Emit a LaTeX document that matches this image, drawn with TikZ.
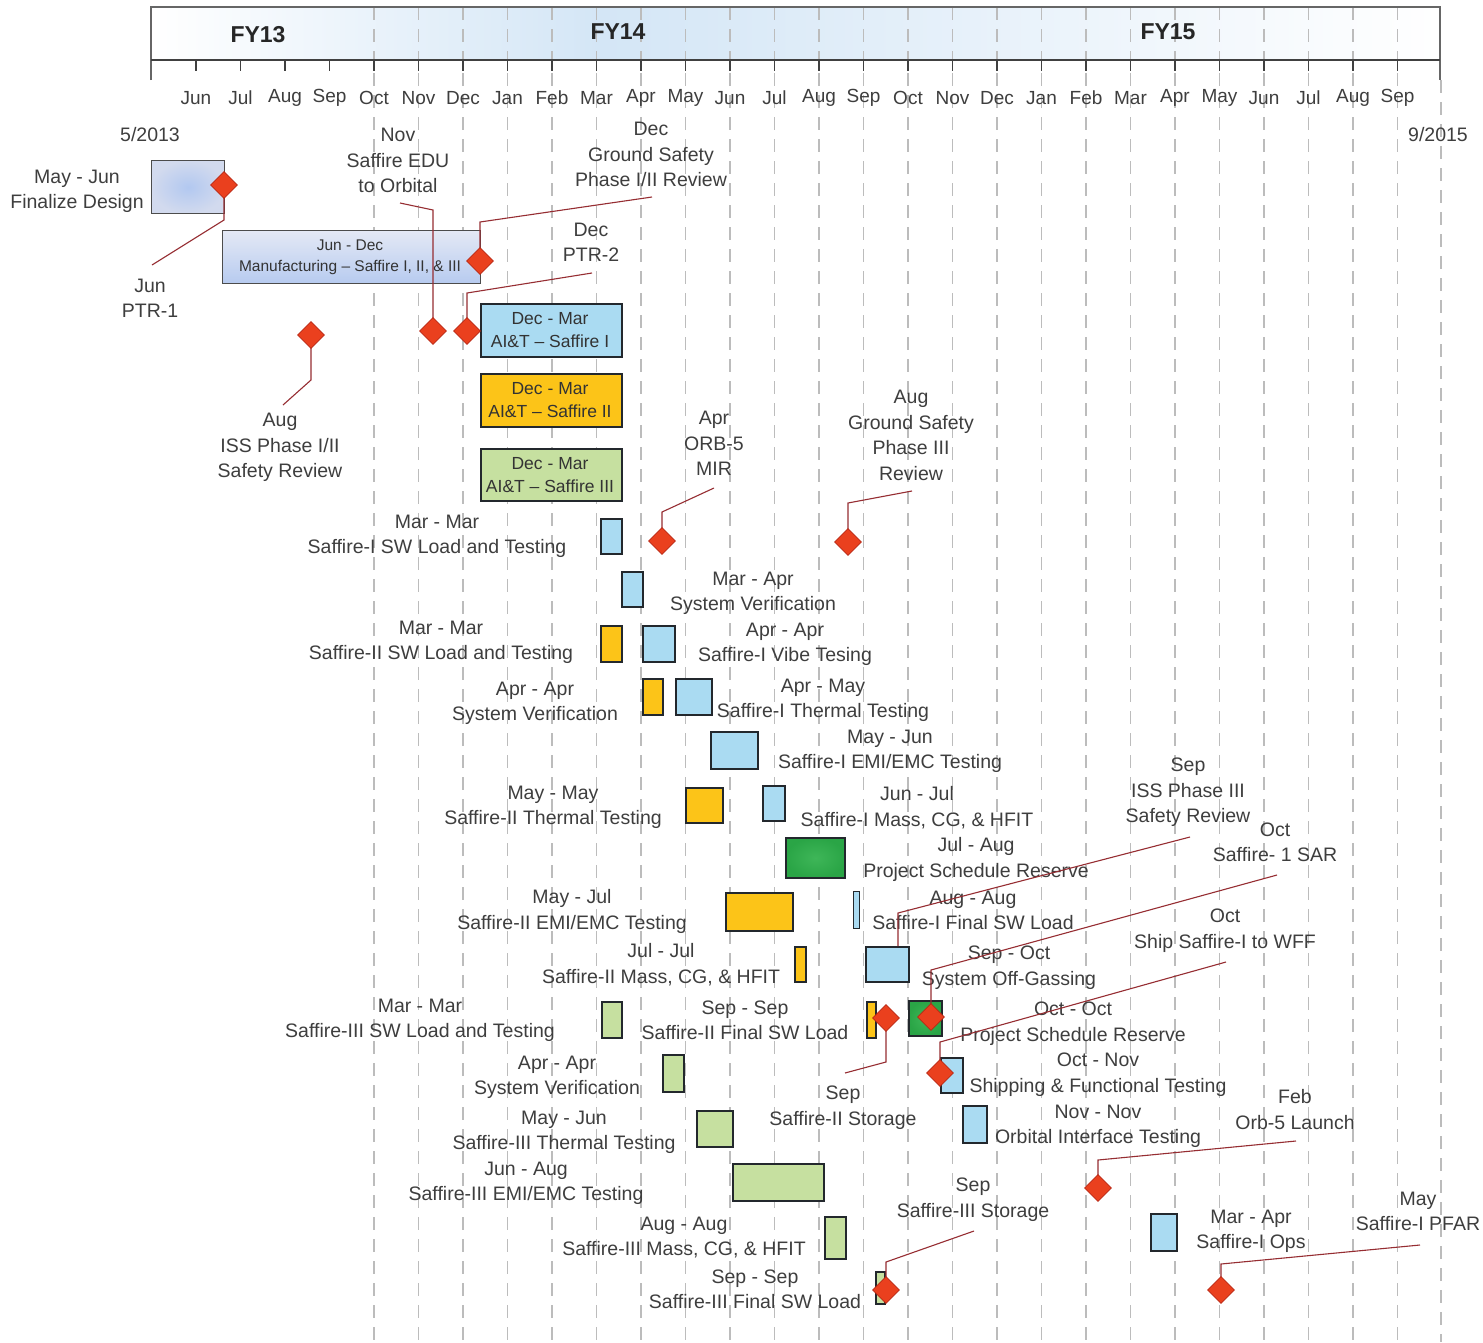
\documentclass[tikz,border=0pt]{standalone}
\usepackage{fontspec}
\setmainfont{Liberation Sans}
\usetikzlibrary{shapes.geometric}
\definecolor{txt}{RGB}{62,62,62}
\definecolor{gridc}{RGB}{188,188,188}
\definecolor{sI}{RGB}{170,219,242}
\definecolor{sII}{RGB}{252,196,24}
\definecolor{sIII}{RGB}{198,224,160}
\definecolor{res}{RGB}{42,165,70}
\definecolor{resc}{RGB}{62,182,88}
\definecolor{lav}{RGB}{210,218,238}
\definecolor{lavc}{RGB}{178,200,240}
\definecolor{mscol}{RGB}{234,64,30}
\definecolor{msd}{RGB}{185,40,20}
\definecolor{leadc}{RGB}{150,45,50}
\definecolor{edgec}{RGB}{35,40,45}
\definecolor{hdr}{RGB}{212,230,246}
\begin{document}
\begin{tikzpicture}[x=1pt,y=-1pt,
 lbl/.style={text=txt, align=center, font=\fontsize{19.5}{25.5}\selectfont, inner sep=0pt, yshift=-2.5pt},
 mon/.style={text=txt, font=\fontsize{19}{22}\selectfont, inner sep=0pt, yshift=-1pt},
 fy/.style={text=black!85, font=\fontsize{23}{26}\selectfont\bfseries, inner sep=0pt},
 inbox/.style={text=black!80, align=center, inner sep=0pt, yshift=-1pt},
 barbox/.style={draw=edgec, line width=1.7pt, anchor=north west, inner sep=0pt},
 ms/.style={shape=diamond, fill=mscol, draw=msd, line width=0.6pt, minimum width=27pt, minimum height=27pt, inner sep=0pt},
 leader/.style={draw=leadc, line width=1.1pt},
 gridline/.style={draw=gridc, line width=1.3pt, dash pattern=on 13pt off 9pt},
 tick/.style={draw=black!75, line width=1.2pt}]
\useasboundingbox (0,0) rectangle (1483,1342);
\fill[white] (0,0) rectangle (1483,1342);
% header shading
\shade[left color=white, right color=hdr] (151,7) rectangle (600,60);
\shade[left color=hdr, right color=white] (600,7) rectangle (1440,60);
% grid
\foreach \k in {4,...,27} \draw[gridline] ({196+44.5*\k},7) -- ({196+44.5*\k},1342);
\draw[gridline] (1441,80) -- (1441,1342);
% header frame
\draw[draw=black!60, line width=1.2pt] (151,80) -- (151,7) -- (1440,7) -- (1440,80);
\draw[draw=black!75, line width=2.6pt] (151,60) -- (1440,60);
\foreach \k in {0,...,27} \draw[tick] ({196+44.5*\k},60) -- ({196+44.5*\k},71);
\node[fy] (fy13) at (258,35) {FY13};
\node[fy] (fy14) at (618,32) {FY14};
\node[fy] (fy15) at (1168,32) {FY15};
\foreach \m [count=\i from 0] in {Jun,Jul,Aug,Sep,Oct,Nov,Dec,Jan,Feb,Mar,Apr,May,Jun,Jul,Aug,Sep,Oct,Nov,Dec,Jan,Feb,Mar,Apr,May,Jun,Jul,Aug,Sep}
  \node[mon] (mon\i) at ({196+44.5*\i},97) {\m};
\node[lbl] (start) at (150,132) {5/2013};
\node[lbl] (stop) at (1438,132) {9/2015};
% bars
\node[barbox, draw=black!70, line width=1.3pt, inner color=lavc, outer color=lav, minimum width=73pt, minimum height=53pt] (bFD) at (151,160) {};
\node[barbox, draw=black!70, line width=1.3pt, top color=lav!60, bottom color=lavc!85!lav, minimum width=258pt, minimum height=53pt] (bMF) at (222,230) {};
\node[inbox, font=\fontsize{15.5}{21}\selectfont] (tMF) at (350,256) {Jun - Dec\\Manufacturing -- Saffire I, II, \& III};
\node[barbox, fill=sI, minimum width=141pt, minimum height=53pt] (bA1) at (480,303) {};
\node[inbox, font=\fontsize{17.5}{23}\selectfont] (tA1) at (550,329) {Dec - Mar\\AI\&T -- Saffire I};
\node[barbox, fill=sII, minimum width=141pt, minimum height=53pt] (bA2) at (480,373) {};
\node[inbox, font=\fontsize{17.5}{23}\selectfont] (tA2) at (550,399) {Dec - Mar\\AI\&T -- Saffire II};
\node[barbox, fill=sIII, minimum width=141pt, minimum height=52pt] (bA3) at (480,448) {};
\node[inbox, font=\fontsize{17.5}{23}\selectfont] (tA3) at (550,474) {Dec - Mar\\AI\&T -- Saffire III};
\node[barbox, fill=sI, minimum width=21pt, minimum height=35pt] (b6) at (600,518) {};
\node[barbox, fill=sI, minimum width=21pt, minimum height=35pt] (b7) at (621,571) {};
\node[barbox, fill=sII, minimum width=21pt, minimum height=36pt] (b8) at (600,625) {};
\node[barbox, fill=sI, minimum width=32pt, minimum height=36pt] (b9) at (642,625) {};
\node[barbox, fill=sII, minimum width=20pt, minimum height=36pt] (b10) at (642,678) {};
\node[barbox, fill=sI, minimum width=36pt, minimum height=36pt] (b11) at (675,678) {};
\node[barbox, fill=sI, minimum width=47pt, minimum height=37pt] (b12) at (710,731) {};
\node[barbox, fill=sII, minimum width=37pt, minimum height=35pt] (b13) at (685,787) {};
\node[barbox, fill=sI, minimum width=22pt, minimum height=35pt] (b14) at (762,785) {};
\node[barbox, inner color=resc, outer color=res, minimum width=59pt, minimum height=40pt] (b15) at (785,837) {};
\node[barbox, fill=sII, minimum width=67pt, minimum height=38pt] (b16) at (725,892) {};
\node[barbox, fill=sI, line width=1.2pt, minimum width=6pt, minimum height=37pt] (b17) at (853,891) {};
\node[barbox, fill=sII, minimum width=11pt, minimum height=35pt] (b18) at (794,946) {};
\node[barbox, fill=sI, minimum width=43pt, minimum height=35pt] (bOG) at (865,946) {};
\node[barbox, fill=sIII, minimum width=20pt, minimum height=36pt] (b20) at (601,1001) {};
\node[barbox, fill=sII, minimum width=9pt, minimum height=36pt] (b21) at (866,1001) {};
\node[barbox, inner color=resc, outer color=res, minimum width=33pt, minimum height=35pt] (b22) at (908,1000) {};
\node[barbox, fill=sI, minimum width=22pt, minimum height=35pt] (b23) at (940,1057) {};
\node[barbox, fill=sIII, minimum width=21pt, minimum height=37pt] (b24) at (662,1054) {};
\node[barbox, fill=sIII, minimum width=36pt, minimum height=36pt] (b25) at (696,1110) {};
\node[barbox, fill=sI, minimum width=24pt, minimum height=37pt] (b26) at (962,1105) {};
\node[barbox, fill=sIII, minimum width=91pt, minimum height=37pt] (b27) at (732,1163) {};
\node[barbox, fill=sIII, minimum width=21pt, minimum height=42pt] (b28) at (824,1216) {};
\node[barbox, fill=sIII, minimum width=9pt, minimum height=32pt] (b29) at (875,1271) {};
\node[barbox, fill=sI, minimum width=26pt, minimum height=37pt] (b30) at (1150,1213) {};
% bar labels
\node[lbl] (lFD) at (77,189) {May - Jun\\Finalize Design};
\node[lbl] (l6) at (437,534) {Mar - Mar\\Saffire-I SW Load and Testing};
\node[lbl] (l7) at (753,591) {Mar - Apr\\System Verification};
\node[lbl] (l8) at (441,640) {Mar - Mar\\Saffire-II SW Load and Testing};
\node[lbl] (l9) at (785,642) {Apr - Apr\\Saffire-I Vibe Tesing};
\node[lbl] (l10) at (535,701) {Apr - Apr\\System Verification};
\node[lbl] (l11) at (823,698) {Apr - May\\Saffire-I Thermal Testing};
\node[lbl] (l12) at (890,749) {May - Jun\\Saffire-I EMI/EMC Testing};
\node[lbl] (l13) at (553,805) {May - May\\Saffire-II Thermal Testing};
\node[lbl] (l14) at (917,805) {Jun - Jul\\Saffire-I Mass, CG, \& HFIT};
\node[lbl] (l15) at (976,857) {Jul - Aug\\Project Schedule Reserve};
\node[lbl] (l16) at (572,909) {May - Jul\\Saffire-II EMI/EMC Testing};
\node[lbl] (l17) at (973,908) {Aug - Aug\\Saffire-I Final SW Load};
\node[lbl] (l18) at (661,962) {Jul - Jul\\Saffire-II Mass, CG, \& HFIT};
\node[lbl] (lOG) at (1009,965) {Sep - Oct\\System Off-Gassing};
\node[lbl] (l20) at (420,1018) {Mar - Mar\\Saffire-III SW Load and Testing};
\node[lbl] (l21) at (745,1018) {Sep - Sep\\Saffire-II Final SW Load};
\node[lbl] (l22) at (1073,1021) {Oct - Oct\\Project Schedule Reserve};
\node[lbl] (l23) at (1098,1072) {Oct - Nov\\Shipping \& Functional Testing};
\node[lbl] (l24) at (557,1075) {Apr - Apr\\System Verification};
\node[lbl] (l25) at (564,1130) {May - Jun\\Saffire-III Thermal Testing};
\node[lbl] (l26) at (1098,1124) {Nov - Nov\\Orbital Interface Testing};
\node[lbl] (l27) at (526,1181) {Jun - Aug\\Saffire-III EMI/EMC Testing};
\node[lbl] (l28) at (684,1235) {Aug - Aug\\Saffire-III Mass, CG, \& HFIT};
\node[lbl] (l29) at (755,1287) {Sep - Sep\\Saffire-III Final SW Load};
\node[lbl] (l30) at (1251,1229) {Mar - Apr\\Saffire-I Ops};
% milestone labels
\node[lbl] (mPTR1) at (150,296) {Jun\\PTR-1};
\node[lbl] (mGS12) at (651,152) {Dec\\Ground Safety\\Phase I/II Review};
\node[lbl] (mEDU) at (398,158) {Nov\\Saffire EDU\\to Orbital};
\node[lbl] (mPTR2) at (591,240) {Dec\\PTR-2};
\node[lbl] (mISS12) at (280,445) {Aug\\ISS Phase I/II\\Safety Review};
\node[lbl] (mORB) at (714,441) {Apr\\ORB-5\\MIR};
\node[lbl] (mGS3) at (911,433) {Aug\\Ground Safety\\Phase III\\Review};
\node[lbl] (mS2S) at (843,1105) {Sep\\Saffire-II Storage};
\node[lbl] (mISS3) at (1188,790) {Sep\\ISS Phase III\\Safety Review};
\node[lbl] (mSAR) at (1275,840) {Oct\\Saffire- 1 SAR};
\node[lbl] (mWFF) at (1225,928) {Oct\\Ship Saffire-I to WFF};
\node[lbl] (mORB5) at (1295,1107) {Feb\\Orb-5 Launch};
\node[lbl] (mS3S) at (973,1197) {Sep\\Saffire-III Storage};
\node[lbl] (mPFAR) at (1418,1209) {May\\Saffire-I PFAR};
% milestone positions
\coordinate (pFD) at (224,185);
\coordinate (pMF) at (480,261);
\coordinate (pEDU) at (433,331);
\coordinate (pPTR2) at (467,331);
\coordinate (pISS12) at (311,335);
\coordinate (pORB) at (662,541);
\coordinate (pGS3) at (848,542);
\coordinate (pS2S) at (886,1018);
\coordinate (pSAR) at (931,1017);
\coordinate (pWFF) at (940,1073);
\coordinate (pORB5) at (1098,1188);
\coordinate (pS3S) at (886,1290);
\coordinate (pPFAR) at (1221,1290);
% leader ends and knees
\coordinate (ePTR1) at (152,265);  \coordinate (kPTR1) at (224,220);
\coordinate (eGS12) at (652,197);  \coordinate (kGS12) at (480,222);
\coordinate (eEDU) at (400,203);   \coordinate (kEDU) at (433,210);
\coordinate (ePTR2) at (592,273);  \coordinate (kPTR2) at (467,293);
\coordinate (eISS12) at (283,405); \coordinate (kISS12) at (311,380);
\coordinate (eORB) at (714,488);   \coordinate (kORB) at (662,512);
\coordinate (eGS3) at (912,491);   \coordinate (kGS3) at (848,503);
\coordinate (eS2S) at (845,1073);  \coordinate (kS2S) at (886,1062);
\coordinate (eISS3) at (1190,837); \coordinate (kISS3) at (898,913);
\coordinate (eSAR) at (1277,875);  \coordinate (kSAR) at (931,970);
\coordinate (eWFF) at (1226,962);  \coordinate (kWFF) at (940,1042);
\coordinate (eORB5) at (1296,1141);\coordinate (kORB5) at (1098,1160);
\coordinate (eS3S) at (974,1231);  \coordinate (kS3S) at (886,1262);
\coordinate (ePFAR) at (1420,1245);\coordinate (kPFAR) at (1221,1264);
\draw[leader] (ePTR1) -- (kPTR1) -- (pFD);
\draw[leader] (eGS12) -- (kGS12) -- (pMF);
\draw[leader] (eEDU) -- (kEDU) -- (pEDU);
\draw[leader] (ePTR2) -- (kPTR2) -- (pPTR2);
\draw[leader] (eISS12) -- (kISS12) -- (pISS12);
\draw[leader] (eORB) -- (kORB) -- (pORB);
\draw[leader] (eGS3) -- (kGS3) -- (pGS3);
\draw[leader] (eS2S) -- (kS2S) -- (pS2S);
\draw[leader] (eISS3) -- (kISS3) -- (kISS3 |- bOG.north);
\draw[leader] (eSAR) -- (kSAR) -- (pSAR);
\draw[leader] (eWFF) -- (kWFF) -- (pWFF);
\draw[leader] (eORB5) -- (kORB5) -- (pORB5);
\draw[leader] (eS3S) -- (kS3S) -- (pS3S);
\draw[leader] (ePFAR) -- (kPFAR) -- (pPFAR);
\node[ms] (dFD) at (pFD) {};
\node[ms] (dMF) at (pMF) {};
\node[ms] (dEDU) at (pEDU) {};
\node[ms] (dPTR2) at (pPTR2) {};
\node[ms] (dISS12) at (pISS12) {};
\node[ms] (dORB) at (pORB) {};
\node[ms] (dGS3) at (pGS3) {};
\node[ms] (dS2S) at (pS2S) {};
\node[ms] (dSAR) at (pSAR) {};
\node[ms] (dWFF) at (pWFF) {};
\node[ms] (dORB5) at (pORB5) {};
\node[ms] (dS3S) at (pS3S) {};
\node[ms] (dPFAR) at (pPFAR) {};
\end{tikzpicture}
\end{document}
